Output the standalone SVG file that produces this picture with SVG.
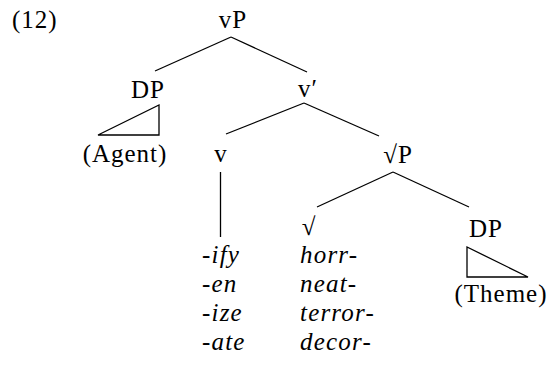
<svg xmlns="http://www.w3.org/2000/svg" width="551" height="367" viewBox="0 0 551 367">
  <style>
    text { font-family: "Liberation Serif", "Times New Roman", serif; font-size: 25px; fill: #000; letter-spacing: 1px; }
    .lbl { text-anchor: middle; }
    .it { font-style: italic; letter-spacing: 1.2px; }
    .edge { stroke: #000; stroke-width: 1.3; fill: none; stroke-linecap: butt; }
    .tri { stroke: #000; stroke-width: 1.3; fill: none; stroke-linejoin: miter; }
  </style>
  <rect width="551" height="367" fill="#fff"/>

  <!-- example number -->
  <text id="exnum" x="12" y="28">(12)</text>

  <!-- branches -->
  <g id="connectors">
    <line class="edge" x1="231" y1="37" x2="155" y2="71"/>
    <line class="edge" x1="231" y1="37" x2="307" y2="72"/>
    <line class="edge" x1="304" y1="103" x2="226" y2="134"/>
    <line class="edge" x1="304" y1="103" x2="379" y2="136"/>
    <line class="edge" x1="220.5" y1="172" x2="220.5" y2="237"/>
    <line class="edge" x1="393" y1="172" x2="317" y2="207"/>
    <line class="edge" x1="393" y1="172" x2="469" y2="207"/>
  </g>

  <g id="vP"><text class="lbl" x="233" y="28">vP</text></g>

  <g id="DP-agent">
    <text class="lbl" x="148" y="98">DP</text>
    <polygon class="tri" points="98,135 159,105 159,135"/>
    <text class="lbl" x="125" y="162">(Agent)</text>
  </g>

  <g id="vbar"><text class="lbl" x="308" y="97">v′</text></g>

  <g id="v"><text class="lbl" x="221" y="162">v</text></g>

  <g id="rootP"><text class="lbl" x="398" y="163">√P</text></g>

  <g id="root"><text class="lbl" x="309" y="235">√</text></g>

  <g id="DP-theme">
    <text class="lbl" x="486" y="237">DP</text>
    <polygon class="tri" points="467,247 467,277 528,277"/>
    <text class="lbl" x="501" y="302">(Theme)</text>
  </g>

  <g id="suffixes">
    <text class="it" x="202" y="263">-ify</text>
    <text class="it" x="202" y="292">-en</text>
    <text class="it" x="202" y="321">-ize</text>
    <text class="it" x="202" y="350">-ate</text>
  </g>

  <g id="roots">
    <text class="it" x="300" y="263">horr-</text>
    <text class="it" x="300" y="292">neat-</text>
    <text class="it" x="300" y="321">terror-</text>
    <text class="it" x="300" y="350">decor-</text>
  </g>
</svg>
